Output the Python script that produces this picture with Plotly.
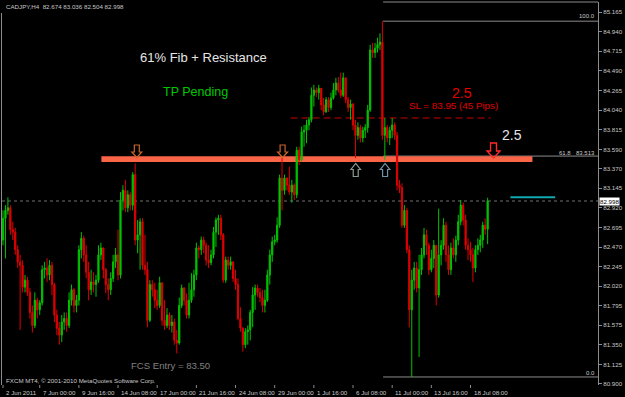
import plotly.graph_objects as go

# ---------------- data (CADJPY H4) ----------------
first_open = 82.55
close = [82.80, 82.89, 82.92, 82.67, 82.64, 82.44, 82.30, 82.26, 82.01, 82.09,
         81.95, 81.72, 81.57, 81.86, 81.75, 81.83, 82.21, 82.23, 82.15, 82.26,
         82.04, 81.69, 81.54, 81.46, 81.61, 81.65, 81.57, 81.86, 81.98, 81.80,
         81.86, 82.44, 82.57, 82.38, 82.18, 81.98, 82.07, 82.04, 82.09, 82.38,
         82.46, 82.21, 82.04, 81.98, 82.11, 82.30, 82.38, 82.15, 83.01, 83.12,
         82.92, 83.07, 82.95, 83.30, 82.55, 82.61, 82.76, 82.26, 82.21, 81.63,
         82.04, 81.98, 81.86, 81.80, 82.06, 81.63, 81.57, 81.69, 81.57, 81.61,
         81.40, 81.37, 81.80, 82.00, 81.86, 81.69, 81.86, 81.98, 82.15, 82.46,
         82.44, 82.55, 82.49, 82.32, 82.29, 82.38, 82.64, 82.78, 82.80, 82.61,
         82.09, 82.32, 82.26, 82.30, 82.11, 82.04, 81.65, 81.54, 81.35, 81.50,
         81.52, 81.72, 81.92, 82.00, 81.95, 81.89, 81.80, 81.86, 82.15, 82.38,
         82.53, 82.55, 82.72, 83.26, 83.12, 83.26, 83.18, 83.10, 83.18, 83.07,
         83.58, 83.47, 83.79, 83.81, 83.87, 83.93, 84.21, 84.27, 84.24, 84.29,
         84.10, 84.02, 84.16, 84.07, 84.18, 84.27, 84.35, 84.27, 84.21, 84.41,
         84.16, 84.07, 84.11, 83.87, 83.75, 83.84, 83.72, 83.81, 83.84, 84.04,
         84.73, 84.70, 84.75, 84.79, 84.82, 83.75, 83.84, 83.72, 83.81, 83.87,
         83.75, 83.18, 83.15, 82.72, 82.89, 82.44, 81.75, 82.09, 82.23, 82.00,
         82.21, 82.38, 82.61, 82.49, 82.21, 82.34, 82.49, 81.92, 82.38, 82.49,
         82.72, 82.38, 82.21, 82.46, 82.38, 82.55, 82.76, 82.95, 82.78, 82.49,
         82.44, 82.38, 82.23, 82.44, 82.49, 82.55, 82.72, 82.674, 82.998]
high = [82.89, 82.95, 83.04, 82.95, 82.76, 82.69, 82.49, 82.38, 82.32, 82.15,
        82.13, 82.00, 81.80, 81.95, 81.89, 81.86, 82.26, 82.30, 82.34, 82.32,
        82.30, 82.06, 81.75, 81.61, 81.69, 81.72, 81.72, 81.95, 82.04, 82.00,
        81.92, 82.49, 82.64, 82.60, 82.49, 82.30, 82.21, 82.18, 82.15, 82.49,
        82.52, 82.44, 82.23, 82.11, 82.18, 82.38, 82.46, 82.67, 83.10, 83.18,
        83.24, 83.12, 83.10, 83.33, 83.43, 82.78, 82.80, 82.80, 82.61, 82.30,
        82.09, 82.09, 82.06, 81.98, 82.13, 82.04, 81.86, 81.77, 81.72, 81.69,
        81.65, 81.52, 81.89, 82.04, 82.01, 81.94, 82.06, 82.17, 82.21, 82.52,
        82.49, 82.59, 82.59, 82.52, 82.49, 82.44, 82.70, 82.81, 82.84, 82.84,
        82.63, 82.36, 82.36, 82.36, 82.29, 82.21, 82.11, 81.78, 81.55, 81.54,
        81.57, 81.75, 82.01, 82.04, 82.04, 82.00, 81.98, 81.98, 82.21, 82.44,
        82.59, 82.61, 82.81, 83.30, 83.49, 83.30, 83.27, 83.39, 83.24, 83.20,
        83.62, 83.62, 83.85, 83.87, 83.93, 83.96, 84.30, 84.33, 84.30, 84.33,
        84.27, 84.18, 84.19, 84.19, 84.24, 84.35, 84.41, 84.42, 84.47, 84.47,
        84.41, 84.19, 84.16, 84.12, 83.93, 83.90, 83.87, 83.85, 83.88, 84.10,
        84.79, 84.81, 84.81, 84.87, 84.92, 85.06, 83.95, 83.87, 83.85, 83.95,
        83.90, 83.79, 83.24, 83.20, 82.95, 82.92, 82.49, 82.21, 82.30, 82.30,
        82.38, 82.46, 82.69, 82.67, 82.52, 82.44, 82.55, 82.49, 82.91, 82.55,
        82.80, 82.76, 82.49, 82.52, 82.57, 82.60, 82.84, 83.01, 82.98, 82.84,
        82.57, 82.53, 82.46, 82.49, 82.57, 82.61, 82.76, 82.80, 83.036]
low = [82.49, 82.34, 82.84, 82.61, 82.55, 82.38, 82.23, 81.52, 81.95, 81.95,
       81.91, 81.65, 81.49, 81.54, 81.65, 81.69, 81.80, 82.11, 82.07, 82.09,
       81.92, 81.61, 81.46, 81.35, 81.38, 81.52, 81.50, 81.54, 81.80, 81.72,
       81.72, 81.80, 82.34, 82.30, 82.11, 81.86, 81.92, 81.95, 81.90, 82.06,
       82.32, 82.11, 81.94, 81.86, 81.92, 82.07, 82.23, 82.09, 82.11, 82.89,
       82.87, 82.87, 82.89, 82.89, 82.49, 82.40, 82.21, 82.21, 82.15, 81.55,
       81.61, 81.90, 81.77, 81.75, 81.77, 81.57, 81.52, 81.54, 81.52, 81.49,
       81.35, 81.25, 81.35, 81.77, 81.80, 81.65, 81.65, 81.83, 81.90, 82.09,
       82.34, 82.38, 82.40, 82.26, 82.23, 82.26, 82.34, 82.47, 82.61, 82.55,
       82.06, 82.06, 82.21, 82.21, 82.07, 81.98, 81.63, 81.50, 81.27, 81.31,
       81.35, 81.40, 81.55, 81.75, 81.90, 81.84, 81.72, 81.72, 81.84, 82.04,
       82.30, 82.49, 82.52, 82.69, 82.89, 83.07, 83.12, 83.07, 82.98, 83.01,
       83.03, 83.41, 83.45, 83.62, 83.66, 83.81, 83.90, 84.08, 84.19, 84.16,
       84.04, 83.98, 84.01, 84.02, 84.04, 84.16, 84.21, 84.24, 84.18, 84.19,
       84.12, 84.02, 83.93, 83.81, 83.49, 83.70, 83.67, 83.67, 83.72, 83.78,
       84.02, 84.64, 84.64, 84.70, 84.73, 83.70, 83.47, 83.67, 83.64, 83.72,
       83.70, 83.12, 83.09, 82.69, 82.69, 82.40, 81.55, 80.98, 81.98, 81.95,
       81.21, 82.15, 82.34, 82.38, 82.15, 82.18, 82.23, 81.80, 81.89, 82.26,
       82.44, 82.30, 82.15, 82.15, 82.34, 82.30, 82.49, 82.72, 82.72, 82.44,
       82.32, 82.30, 82.07, 82.18, 82.38, 82.41, 82.46, 82.61, 82.504]

tick_bars = [0, 15, 31, 47, 63, 79, 95, 111, 127, 143, 159, 175, 191]
tick_text = ["2 Jun 2011", "7 Jun 00:00", "9 Jun 16:00", "14 Jun 08:00",
             "17 Jun 00:00", "21 Jun 16:00", "24 Jun 08:00", "29 Jun 00:00",
             "1 Jul 16:00", "6 Jul 08:00", "11 Jul 00:00", "13 Jul 16:00",
             "18 Jul 08:00"]
price_ticks = [85.165, 84.940, 84.715, 84.490, 84.265, 84.040, 83.815, 83.590,
               83.370, 83.145, 82.920, 82.695, 82.470, 82.245, 82.020, 81.795,
               81.575, 81.350, 81.125, 80.900]

last_price = 82.998
resistance = (83.445, 83.51)
stop_loss = 83.95
fib_levels = [(85.06, "100.0"), (83.513, "61.8"), (80.98, "0.0")]
cyan_level = 83.04

# ---------------- figure ----------------
W, H = 625, 397
ML, MR, MT, MB = 2, 24, 2, 12
XR = [-0.41, 243.09]
YR = [80.888, 85.280]

opens = [first_open] + close[:-1]
x = list(range(len(close)))

GREEN = "#00c400"
RED = "#e00000"
GRAY = "#8c8c8c"
LABEL = "#c8c8c8"

fig = go.Figure()
fig.add_trace(go.Candlestick(
    x=x, open=opens, high=high, low=low, close=close,
    increasing=dict(line=dict(color=GREEN, width=1), fillcolor=GREEN),
    decreasing=dict(line=dict(color=RED, width=1), fillcolor=RED),
    whiskerwidth=0, hoverinfo="skip", showlegend=False,
))


def px(v):
    return (v - ML) / (W - ML - MR)


def py(v):
    return (H - MB - v) / (H - MT - MB)


def path_from(points):
    s = "M " + " L ".join(f"{px(a):.5f},{py(b):.5f}" for a, b in points) + " Z"
    return s


def down_arrow(cx, top, sw, hw, sh, hh):
    return path_from([(cx - sw, top), (cx + sw, top), (cx + sw, top + sh),
                      (cx + hw, top + sh), (cx, top + sh + hh),
                      (cx - hw, top + sh), (cx - sw, top + sh)])


def up_arrow(cx, bottom, sw, hw, sh, hh):
    return path_from([(cx - sw, bottom), (cx + sw, bottom), (cx + sw, bottom - sh),
                      (cx + hw, bottom - sh), (cx, bottom - sh - hh),
                      (cx - hw, bottom - sh), (cx - sw, bottom - sh)])


shapes = []
# current price dotted line
shapes.append(dict(type="line", xref="x", yref="y", x0=XR[0], x1=XR[1],
                   y0=last_price, y1=last_price,
                   line=dict(color="#707070", width=1, dash="dot"), layer="below"))
# fib levels
fib_x0 = 155.3
for lvl, _ in fib_levels:
    shapes.append(dict(type="line", xref="x", yref="y", x0=fib_x0, x1=XR[1],
                       y0=lvl, y1=lvl, line=dict(color=GRAY, width=1), layer="below"))
# top frame on the right part
shapes.append(dict(type="line", xref="x", yref="paper", x0=fib_x0, x1=XR[1],
                   y0=py(2), y1=py(2), line=dict(color=GRAY, width=1)))
# resistance bar
shapes.append(dict(type="rect", xref="x", yref="y", x0=40.2, x1=216.3,
                   y0=resistance[0], y1=resistance[1],
                   fillcolor="#fa6548", line=dict(width=0), layer="below"))
# stop loss dashed
shapes.append(dict(type="line", xref="x", yref="y", x0=117.5, x1=199.2,
                   y0=stop_loss, y1=stop_loss,
                   line=dict(color="#c80000", width=1, dash="7px,4px"), layer="below"))
# cyan short line
shapes.append(dict(type="line", xref="x", yref="y", x0=207.3, x1=225.6,
                   y0=cyan_level, y1=cyan_level,
                   line=dict(color="#10a8b0", width=2)))
# left frame
shapes.append(dict(type="line", xref="paper", yref="paper", x0=px(1.5), x1=px(1.5),
                   y0=py(13), y1=0, line=dict(color=GRAY, width=1)))
# bottom date tick marks
for b in tick_bars:
    shapes.append(dict(type="line", xref="x", yref="paper", x0=b, x1=b,
                       y0=0, y1=py(388), line=dict(color=GRAY, width=1)))

# hollow arrows
ORANGE = "#c8642a"
for cx in (137.5, 284.0):
    shapes.append(dict(type="path", xref="paper", yref="paper",
                       path=down_arrow(cx, 145, 2.5, 5, 7, 5.5),
                       line=dict(color=ORANGE, width=1.2), fillcolor="rgba(0,0,0,0)"))
shapes.append(dict(type="path", xref="paper", yref="paper",
                   path=up_arrow(357.5, 176.5, 2.5, 4.8, 7, 6),
                   line=dict(color="#8a9a90", width=1.2), fillcolor="rgba(0,0,0,0)"))
shapes.append(dict(type="path", xref="paper", yref="paper",
                   path=up_arrow(387.0, 176.5, 2.5, 4.8, 7, 6),
                   line=dict(color="#6e93a8", width=1.2), fillcolor="rgba(0,0,0,0)"))
shapes.append(dict(type="path", xref="paper", yref="paper",
                   path=down_arrow(496.0, 143, 3, 6.5, 8, 7),
                   line=dict(color="#ff2a2a", width=1.4), fillcolor="rgba(0,0,0,0)"))

ann = []


def text(t, xp, yp, size, color, anchor="center", family="Liberation Sans"):
    ann.append(dict(text=t, xref="paper", yref="paper", x=px(xp), y=py(yp),
                    xanchor=anchor, yanchor="middle", showarrow=False,
                    font=dict(family=family, size=size, color=color)))


text("CADJPY,H4  82.674 83.036 82.504 82.998", 4, 7, 6.2, LABEL, "left")
text("61% Fib + Resistance", 205, 57, 13, "#e6e6e6")
text("TP Pending", 196, 92, 12.5, "#00c800")
text("2.5", 464, 93, 14, "#e00000")
text("SL = 83.95 (45 Pips)", 456, 105, 9.8, "#e00000")
text("2.5", 515, 135, 14, "#e6e6e6")
text("FCS Entry = 83.50", 171, 365, 9.6, "#808080")
text("FXCM MT4, \u00a9 2001-2010 MetaQuotes Software Corp.", 4, 380, 6.2, LABEL, "left")
text("100.0", 600, 16, 6, LABEL, "right")
text("61.8", 576, 153, 6, LABEL, "right")
text("83.513", 600, 153, 6, LABEL, "right")
text("0.0", 600, 373, 6, LABEL, "right")

# date labels
for b, t in zip(tick_bars, tick_text):
    ann.append(dict(text=t, xref="x", yref="paper", x=b, y=0, xanchor="left",
                    yanchor="top", xshift=1, yshift=-2, showarrow=False,
                    font=dict(family="Liberation Sans", size=6.2, color=LABEL)))
# current price box
ann.append(dict(text="82.998", xref="paper", yref="y", x=1, y=last_price,
                xanchor="left", yanchor="middle", xshift=1, showarrow=False,
                bgcolor="#ffffff", borderpad=0,
                font=dict(family="Liberation Sans", size=6.2, color="#000000")))

fig.update_layout(
    width=W, height=H,
    margin=dict(l=ML, r=MR, t=MT, b=MB),
    paper_bgcolor="#000000", plot_bgcolor="#000000",
    shapes=shapes, annotations=ann, showlegend=False,
    xaxis=dict(range=XR, showgrid=False, zeroline=False, showticklabels=False,
               rangeslider=dict(visible=False), showline=False, fixedrange=True),
    yaxis=dict(range=YR, side="right", showgrid=False, zeroline=False,
               tickvals=price_ticks, ticktext=[f"{v:.3f}" for v in price_ticks],
               ticks="outside", ticklen=3, tickcolor=GRAY,
               showline=True, linecolor=GRAY, linewidth=1,
               tickfont=dict(family="Liberation Sans", size=6.2, color=LABEL)),
)

fig.write_html("out.html")
